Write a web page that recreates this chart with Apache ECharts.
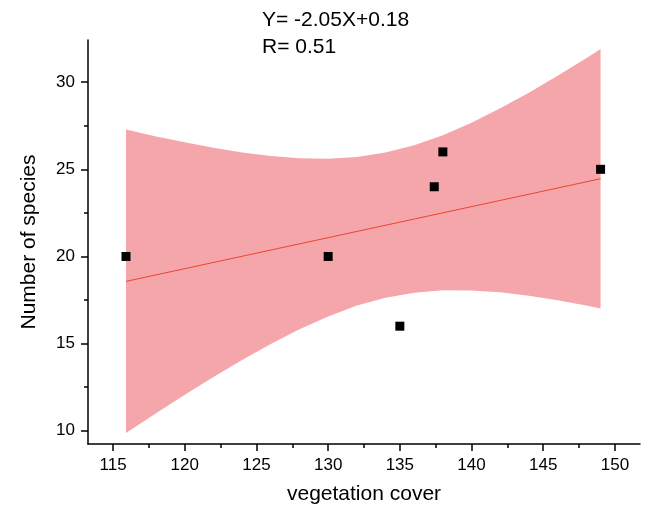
<!DOCTYPE html>
<html>
<head>
<meta charset="utf-8">
<script src="https://cdn.jsdelivr.net/npm/echarts@6/dist/echarts.min.js"></script>
<style>
  html, body { margin: 0; padding: 0; background: #fff; }
  #chart { width: 649px; height: 510px; }
</style>
</head>
<body>
<div id="chart"></div>
<script>
// measured points
const coverValues = [115.9, 130, 135, 137.4, 138, 149]
const speciesValues = [20, 20, 16, 24, 26, 25]

// fitted line ends
const fitX = [115.9, 149]
const fitY = [18.57, 24.46]

// confidence band
const bandX = [115.9, 118, 120, 122, 124, 126, 128, 130, 132, 134, 136, 138, 140, 142, 144, 146, 148, 149]
const bandUpper = [27.28, 26.89, 26.55, 26.24, 25.97, 25.76, 25.63, 25.60, 25.70, 25.96, 26.38, 26.96, 27.67, 28.50, 29.40, 30.37, 31.38, 31.90]
const bandLower = [9.87, 11.00, 12.06, 13.08, 14.06, 14.98, 15.82, 16.56, 17.18, 17.63, 17.92, 18.06, 18.05, 17.94, 17.75, 17.49, 17.19, 17.02]

// ticks
const xMajor = [115, 120, 125, 130, 135, 140, 145, 150]
const xMinor = [117.5, 122.5, 127.5, 132.5, 137.5, 142.5, 147.5]
const yMajor = [10, 15, 20, 25, 30]
const yMinor = [12.5, 17.5, 22.5, 27.5]

const FONT = '"Liberation Sans", Arial, sans-serif'

const chart = echarts.init(document.getElementById('chart'))

const axisLineStyle = { color: '#000', width: 1.5 }

// band polygon: upper edge left->right, lower edge right->left
const bandData = bandX.map((x, i) => [x, bandUpper[i], bandLower[i]])

chart.setOption({
  animation: false,
  grid: { left: 88, top: 40, right: 9, bottom: 65 },
  xAxis: [
    {
      type: 'value', min: 113.25, max: 151.75,
      name: 'vegetation cover', nameLocation: 'middle', nameGap: 40,
      nameTextStyle: { fontSize: 21, color: '#000', fontFamily: FONT },
      axisLine: { lineStyle: axisLineStyle },
      axisTick: { customValues: xMajor, length: 7, lineStyle: axisLineStyle },
      axisLabel: { customValues: xMajor, fontSize: 17, color: '#000', fontFamily: FONT, margin: 13 },
      splitLine: { show: false }
    },
    {
      type: 'value', min: 113.25, max: 151.75, position: 'bottom',
      axisLine: { show: false },
      axisTick: { customValues: xMinor, length: 4, lineStyle: axisLineStyle },
      axisLabel: { show: false },
      splitLine: { show: false }
    }
  ],
  yAxis: [
    {
      type: 'value', min: 9.24, max: 32.42,
      name: 'Number of species', nameLocation: 'middle', nameGap: 48,
      nameTextStyle: { fontSize: 21, color: '#000', fontFamily: FONT },
      axisLine: { show: true, lineStyle: axisLineStyle },
      axisTick: { show: true, customValues: yMajor, length: 7, lineStyle: axisLineStyle },
      axisLabel: { customValues: yMajor, fontSize: 17, color: '#000', fontFamily: FONT, margin: 13 },
      splitLine: { show: false }
    },
    {
      type: 'value', min: 9.24, max: 32.42, position: 'left',
      axisLine: { show: false },
      axisTick: { show: true, customValues: yMinor, length: 4, lineStyle: axisLineStyle },
      axisLabel: { show: false },
      splitLine: { show: false }
    }
  ],
  graphic: [
    { type: 'text', left: 262, top: 10, style: { text: 'Y= -2.05X+0.18', font: '21px ' + FONT, fill: '#000' } },
    { type: 'text', left: 262, top: 37, style: { text: 'R= 0.51', font: '21px ' + FONT, fill: '#000' } }
  ],
  series: [
    {
      type: 'custom', silent: true, z: 1,
      data: bandData,
      encode: { x: 0, y: [1, 2] },
      renderItem: (params, api) => {
        if (params.dataIndex !== 0) return null
        const upper = bandData.map(d => api.coord([d[0], d[1]]))
        const lower = bandData.map(d => api.coord([d[0], d[2]])).reverse()
        return {
          type: 'polygon',
          shape: { points: upper.concat(lower) },
          style: { fill: '#F5A6AA' }
        }
      }
    },
    {
      type: 'line', symbol: 'none', silent: true,
      data: fitX.map((x, i) => [x, fitY[i]]),
      lineStyle: { color: '#EE4433', width: 1 }, z: 2
    },
    {
      type: 'scatter', symbol: 'rect', symbolSize: 9,
      data: coverValues.map((x, i) => [x, speciesValues[i]]),
      itemStyle: { color: '#000', opacity: 1 }, z: 3
    }
  ]
})
</script>
</body>
</html>
